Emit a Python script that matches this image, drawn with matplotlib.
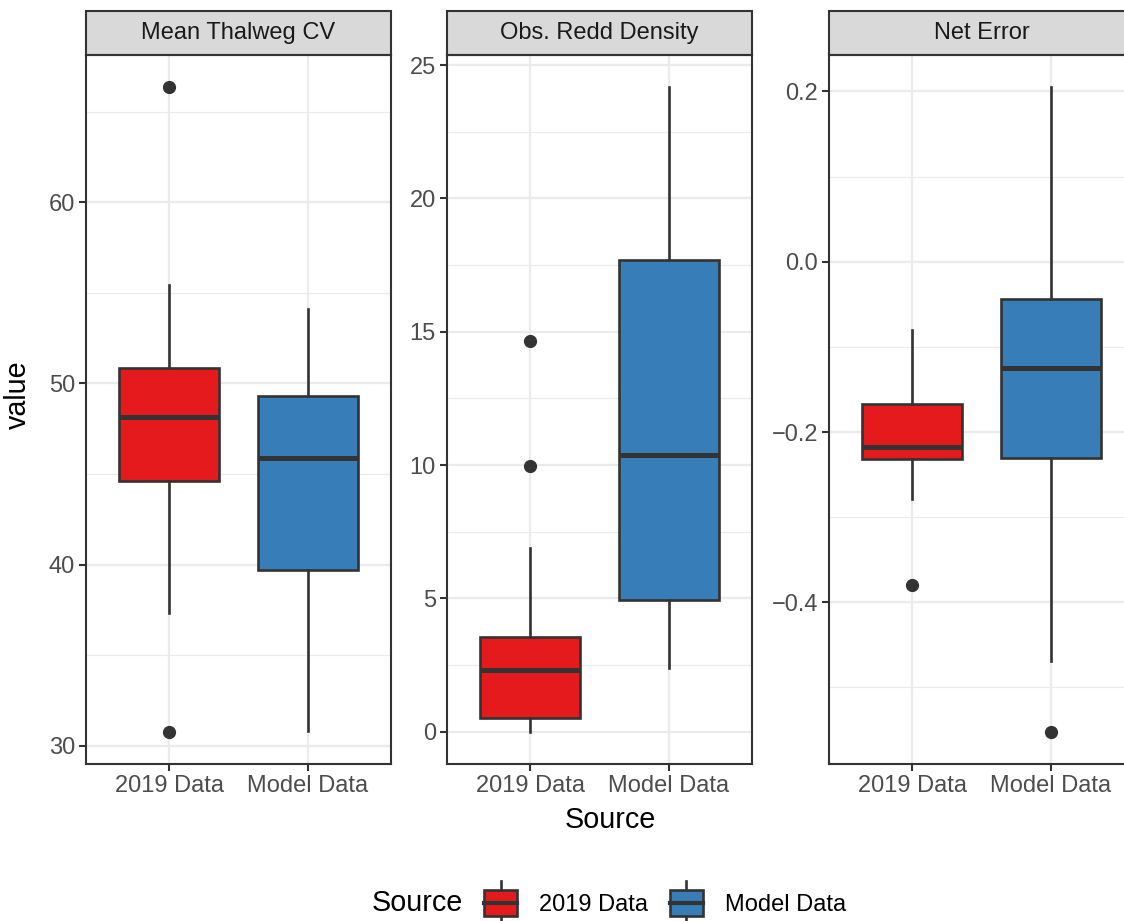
import matplotlib
matplotlib.use("Agg")

import matplotlib.pyplot as plt
from matplotlib.patches import Rectangle, Patch
from matplotlib.lines import Line2D
from matplotlib.legend_handler import HandlerBase
from matplotlib.ticker import MultipleLocator

plt.rcParams["font.family"] = ["Liberation Sans", "DejaVu Sans"]

# ── Data ──────────────────────────────────────────────────────────────────────
FACETS  = ["Mean Thalweg CV", "Obs. Redd Density", "Net Error"]
SOURCES = ["2019 Data", "Model Data"]

# one row per facet: [2019 Data, Model Data]
WHISLO = [[37.35, 30.83], [0.00, 2.40], [-0.279, -0.469]]
Q1     = [[44.59, 39.72], [0.52, 4.95], [-0.232, -0.230]]
MED    = [[48.12, 45.86], [2.32, 10.38], [-0.217, -0.125]]
Q3     = [[50.83, 49.28], [3.56, 17.69], [-0.167, -0.044]]
WHISHI = [[55.41, 54.09], [6.90, 24.17], [-0.080, 0.205]]
FLIERS = [[[66.35, 30.77], []],
          [[14.66, 9.97], []],
          [[-0.380], [-0.552]]]
MAJOR_STEP = [10, 5, 0.2]

# ── Style ────────────────────────────────────────────────────────────────────
FILLS  = ["#E41A1C", "#377EB8"]
DARK   = "#333333"
GRID   = "#EBEBEB"
STRIP  = "#D9D9D9"
TICKC  = "#4D4D4D"
W, H = 1124, 921
LW, MED_LW = 1.9, 3.6


class BoxKey(HandlerBase):
    """ggplot-like boxplot legend key."""
    def create_artists(self, legend, orig_handle, xdescent, ydescent,
                       width, height, fontsize, trans):
        x0, y0 = -xdescent, -ydescent
        rect = Rectangle((x0, y0), width, height,
                         facecolor=orig_handle.get_facecolor(),
                         edgecolor=DARK, lw=LW, transform=trans)
        xc = x0 + width / 2
        med = Line2D([x0, x0 + width], [y0 + height / 2] * 2,
                     color=DARK, lw=3.0, transform=trans)
        up = Line2D([xc, xc], [y0 + height, y0 + height * 1.35],
                    color=DARK, lw=LW, transform=trans)
        lo = Line2D([xc, xc], [y0, y0 - height * 0.35],
                    color=DARK, lw=LW, transform=trans)
        return [up, lo, rect, med]


fig = plt.figure(figsize=(W / 100, H / 100), dpi=100, facecolor="white")

lefts = [86, 447, 829]
pw, top, bottom = 305, 55, 764
strip_h = 44

for i, name in enumerate(FACETS):
    ax = fig.add_axes([lefts[i] / W, 1 - bottom / H, pw / W, (bottom - top) / H])
    stats = []
    for j, src in enumerate(SOURCES):
        stats.append(dict(med=MED[i][j], q1=Q1[i][j], q3=Q3[i][j],
                          whislo=WHISLO[i][j], whishi=WHISHI[i][j],
                          fliers=FLIERS[i][j], label=src))
    bp = ax.bxp(stats, positions=[1, 2], widths=0.72, patch_artist=True,
                showcaps=False,
                boxprops=dict(edgecolor=DARK, linewidth=LW),
                medianprops=dict(color=DARK, linewidth=MED_LW, solid_capstyle="butt"),
                whiskerprops=dict(color=DARK, linewidth=LW),
                flierprops=dict(marker="o", markerfacecolor=DARK,
                                markeredgecolor=DARK, markersize=8.5))
    for box, fc in zip(bp["boxes"], FILLS):
        box.set_facecolor(fc)
        box.set_zorder(2)

    ax.set_xlim(0.4, 2.6)
    ax.margins(y=0.05)
    ax.set_xticks([1, 2])
    ax.set_xticklabels(SOURCES)
    ax.yaxis.set_major_locator(MultipleLocator(MAJOR_STEP[i]))
    ax.yaxis.set_minor_locator(MultipleLocator(MAJOR_STEP[i] / 2))

    ax.set_axisbelow(True)
    ax.grid(which="major", color=GRID, linewidth=1.6)
    ax.grid(which="minor", axis="y", color=GRID, linewidth=0.8)
    ax.tick_params(which="major", colors=DARK, labelcolor=TICKC,
                   labelsize=17, length=5, width=1.5, pad=3)
    ax.tick_params(which="minor", length=0)
    for s in ax.spines.values():
        s.set_color(DARK)
        s.set_linewidth(1.5)
        s.set_zorder(5)

    # facet strip
    sh = strip_h / (bottom - top)
    ax.add_patch(Rectangle((0, 1), 1, sh, transform=ax.transAxes,
                           facecolor=STRIP, edgecolor=DARK, lw=1.5,
                           clip_on=False, zorder=5))
    ax.text(0.5, 1 + sh / 2, name, transform=ax.transAxes, ha="center",
            va="center", fontsize=17, color="#1A1A1A", zorder=6)

# axis titles
fig.text(18 / W, 1 - 395 / H, "value", rotation=90, ha="center", va="center",
         fontsize=20.7)
fig.text(610 / W, 1 - 820 / H, "Source", ha="center", va="center",
         fontsize=20.7)

# legend
fig.text(372 / W, 1 - 903 / H, "Source", ha="left", va="center", fontsize=20.7)
handles = [Patch(facecolor=c) for c in FILLS]
fig.legend(handles, SOURCES, handler_map={Patch: BoxKey()}, ncol=2,
           frameon=False, loc="center left",
           bbox_to_anchor=(484 / W, 1 - 903 / H), fontsize=17,
           handlelength=1.4, handleheight=1.3, handletextpad=0.95,
           columnspacing=0.9, borderpad=0, borderaxespad=0)

fig.savefig("out.png", dpi=100, facecolor="white")
